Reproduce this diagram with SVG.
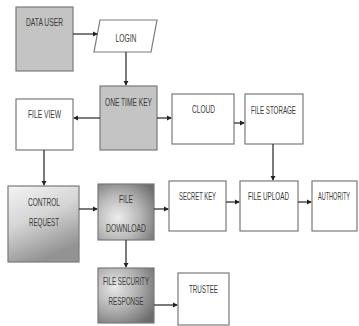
<svg xmlns="http://www.w3.org/2000/svg" width="359" height="326" viewBox="0 0 359 326">
<defs>
<marker id="ah" viewBox="0 0 6 6" refX="5" refY="3" markerWidth="4" markerHeight="4" orient="auto">
<path d="M0,0 L6,3 L0,6 z" fill="#222"/>
</marker>
<linearGradient id="gCR" x1="0" y1="0" x2="0.4" y2="1">
<stop offset="0" stop-color="#f4f4f4"/>
<stop offset="0.5" stop-color="#d4d4d4"/>
<stop offset="1" stop-color="#939393"/>
</linearGradient>
<radialGradient id="gFD" cx="0.35" cy="0.6" r="0.8">
<stop offset="0" stop-color="#ededed"/>
<stop offset="0.5" stop-color="#b8b8b8"/>
<stop offset="1" stop-color="#6e6e6e"/>
</radialGradient>
<radialGradient id="gFS" cx="0.3" cy="0.35" r="0.85">
<stop offset="0" stop-color="#e8e8e8"/>
<stop offset="0.5" stop-color="#afafaf"/>
<stop offset="1" stop-color="#6a6a6a"/>
</radialGradient>
</defs>
<style>
.b{stroke:#7a7a7a;stroke-width:1.2;fill:#fff}
.g{fill:#c4c4c4}
.cr{fill:url(#gCR)}
.fd{fill:url(#gFD)}
.fs{fill:url(#gFS)}
.t{font-family:"Liberation Sans",Arial,sans-serif;font-size:10.5px;fill:#3a3a3a;text-anchor:middle}
.c{stroke:#333;stroke-width:1.3;fill:none;marker-end:url(#ah)}
</style>
<rect width="359" height="326" fill="#fff"/>
<g id="data-user"><rect class="b g" x="16" y="7" width="57" height="64"/><text class="t" x="44.5" y="26" textLength="37" lengthAdjust="spacingAndGlyphs">DATA USER</text></g>
<g id="login"><polygon class="b" points="100,20 157,20 151,52 94,52"/><text class="t" x="126" y="42" textLength="21" lengthAdjust="spacingAndGlyphs">LOGIN</text></g>
<g id="one-time-key"><rect class="b g" x="100" y="86" width="57" height="64"/><text class="t" x="128.5" y="106" textLength="47" lengthAdjust="spacingAndGlyphs">ONE TIME KEY</text></g>
<g id="file-view"><rect class="b" x="16" y="99" width="57" height="51"/><text class="t" x="44.5" y="118" textLength="33" lengthAdjust="spacingAndGlyphs">FILE VIEW</text></g>
<g id="cloud"><rect class="b" x="172" y="94" width="62" height="50"/><text class="t" x="203.5" y="113" textLength="23" lengthAdjust="spacingAndGlyphs">CLOUD</text></g>
<g id="file-storage"><rect class="b" x="245" y="94" width="58" height="50"/><text class="t" x="273.5" y="114" textLength="45" lengthAdjust="spacingAndGlyphs">FILE STORAGE</text></g>
<g id="control-request"><rect class="b cr" x="8" y="186" width="71" height="76"/><text class="t" x="44" y="206" textLength="32" lengthAdjust="spacingAndGlyphs">CONTROL</text><text class="t" x="44" y="226" textLength="30" lengthAdjust="spacingAndGlyphs">REQUEST</text></g>
<g id="file-download"><rect class="b fd" x="98" y="184" width="56" height="56"/><text class="t" x="126" y="203" textLength="14" lengthAdjust="spacingAndGlyphs">FILE</text><text class="t" x="126" y="232" textLength="40" lengthAdjust="spacingAndGlyphs">DOWNLOAD</text></g>
<g id="file-security-response"><rect class="b fs" x="98" y="268" width="56" height="55"/><text class="t" x="126" y="285" textLength="46" lengthAdjust="spacingAndGlyphs">FILE SECURITY</text><text class="t" x="126" y="305" textLength="35" lengthAdjust="spacingAndGlyphs">RESPONSE</text></g>
<g id="secret-key"><rect class="b" x="169" y="181" width="57" height="50"/><text class="t" x="197.5" y="200" textLength="37" lengthAdjust="spacingAndGlyphs">SECRET KEY</text></g>
<g id="file-upload"><rect class="b" x="240" y="181" width="58" height="50"/><text class="t" x="268.5" y="200" textLength="41" lengthAdjust="spacingAndGlyphs">FILE UPLOAD</text></g>
<g id="authority"><rect class="b" x="312" y="181" width="45" height="50"/><text class="t" transform="matrix(0.53,0,0,1,334,200)" x="0" y="0">AUTHORITY</text></g>
<g id="trustee"><rect class="b" x="178" y="273" width="51" height="52"/><text class="t" x="203.5" y="293" textLength="29" lengthAdjust="spacingAndGlyphs">TRUSTEE</text></g>
<g id="connectors">
<line class="c" x1="73" y1="34" x2="97" y2="34"/>
<line class="c" x1="126" y1="52" x2="126" y2="85"/>
<line class="c" x1="100" y1="118" x2="74" y2="118"/>
<line class="c" x1="157" y1="118" x2="171" y2="118"/>
<line class="c" x1="234" y1="123" x2="244" y2="123"/>
<line class="c" x1="44" y1="150" x2="44" y2="185"/>
<line class="c" x1="273" y1="144" x2="273" y2="180"/>
<line class="c" x1="79" y1="209" x2="97" y2="209"/>
<line class="c" x1="154" y1="209" x2="168" y2="209"/>
<line class="c" x1="226" y1="202" x2="239" y2="202"/>
<line class="c" x1="298" y1="202" x2="311" y2="202"/>
<line class="c" x1="126" y1="240" x2="126" y2="267"/>
<line class="c" x1="154" y1="305" x2="177" y2="305"/>
</g>
</svg>
